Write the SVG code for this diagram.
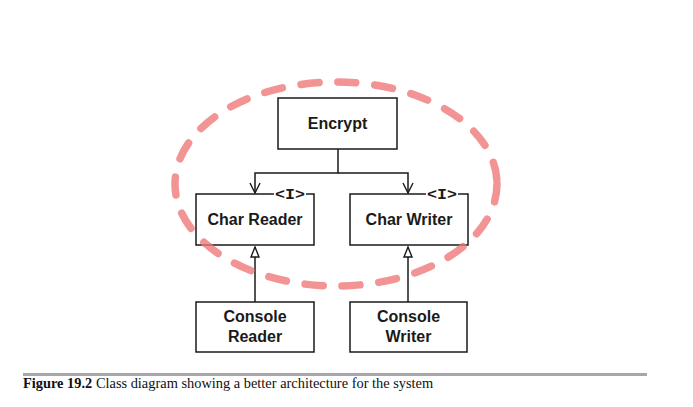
<svg xmlns="http://www.w3.org/2000/svg" width="693" height="407" viewBox="0 0 693 407">
<style>
.box{fill:#fff;stroke:#1a1a1a;stroke-width:1.5}
.lbl{font-family:"Liberation Sans",Arial,sans-serif;font-weight:bold;font-size:16px;fill:#1a1a1a;text-anchor:middle}
.iface{font-family:"Liberation Mono","DejaVu Sans Mono",monospace;font-size:14px;font-weight:bold;fill:#1a1a1a;text-anchor:middle}
.ln{fill:none;stroke:#1a1a1a;stroke-width:1.5}
.cap{font-family:"Liberation Serif","Times New Roman",serif;font-size:14.4px;fill:#111}
</style>
<defs>
<marker id="open" viewBox="0 0 12 12" refX="11" refY="6" markerWidth="12" markerHeight="12" markerUnits="userSpaceOnUse" orient="auto">
<path d="M1,1 L11,6 L1,11" fill="none" stroke="#1a1a1a" stroke-width="1.4"/>
</marker>
<marker id="tri" viewBox="0 0 12 12" refX="11" refY="6" markerWidth="12" markerHeight="12" markerUnits="userSpaceOnUse" orient="auto">
<path d="M1,2 L11,6 L1,10 Z" fill="#fff" stroke="#1a1a1a" stroke-width="1.4"/>
</marker>
</defs>
<rect width="693" height="407" fill="#fff"/>
<g id="connectors">
<path class="ln" d="M338,149 V173 H255 V193" marker-end="url(#open)"/>
<path class="ln" d="M338,173 H408 V193" marker-end="url(#open)"/>
<path class="ln" d="M255,302 V247" marker-end="url(#tri)"/>
<path class="ln" d="M408,302 V247" marker-end="url(#tri)"/>
</g>
<g id="encrypt">
<rect class="box" x="278" y="98" width="119" height="51"/>
<text class="lbl" x="337.5" y="129">Encrypt</text>
</g>
<g id="char-reader">
<rect class="box" x="196" y="194" width="118" height="51"/>
<rect x="274" y="188" width="32" height="12" fill="#fff"/>
<text class="iface" x="290" y="199" textLength="30" lengthAdjust="spacingAndGlyphs">&lt;I&gt;</text>
<text class="lbl" x="255" y="225">Char Reader</text>
</g>
<g id="char-writer">
<rect class="box" x="350" y="194" width="118" height="51"/>
<rect x="426" y="188" width="32" height="12" fill="#fff"/>
<text class="iface" x="442" y="199" textLength="30" lengthAdjust="spacingAndGlyphs">&lt;I&gt;</text>
<text class="lbl" x="409" y="225">Char Writer</text>
</g>
<g id="console-reader">
<rect class="box" x="196" y="302" width="118" height="50"/>
<text class="lbl" x="255" y="322">Console</text>
<text class="lbl" x="255" y="342">Reader</text>
</g>
<g id="console-writer">
<rect class="box" x="350" y="302" width="117" height="50"/>
<text class="lbl" x="408.5" y="322">Console</text>
<text class="lbl" x="408.5" y="342">Writer</text>
</g>
<ellipse cx="336" cy="184" rx="161" ry="102" fill="none" stroke="#ee7676" stroke-opacity="0.78" stroke-width="7.5" stroke-linecap="round" stroke-dasharray="18 19"/>
<g id="caption">
<rect x="23" y="373" width="624" height="3" fill="#a7a6aa"/>
<text class="cap" x="23" y="388"><tspan font-weight="bold">Figure 19.2</tspan> Class diagram showing a better architecture for the system</text>
</g>
</svg>
